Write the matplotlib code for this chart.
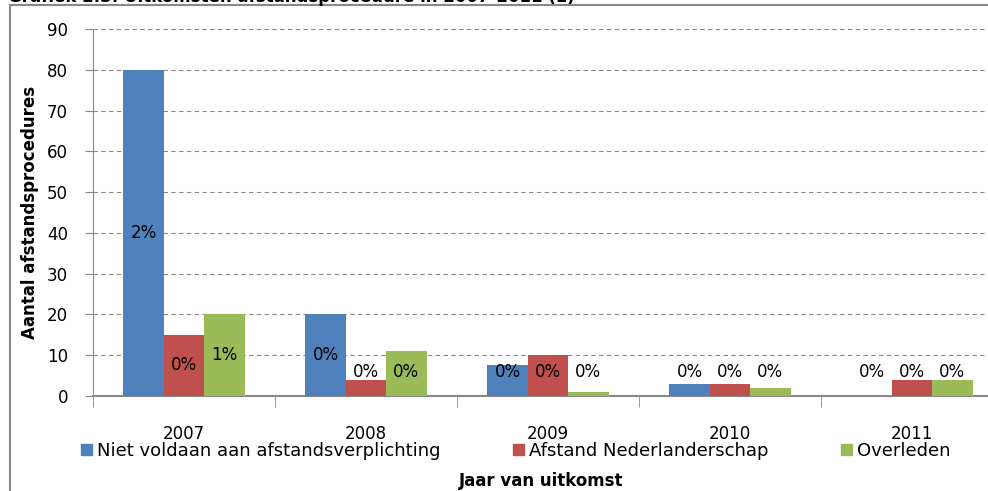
import matplotlib.pyplot as plt
import matplotlib.patches as mpatches
import numpy as np

# data
years = ['2007', '2008', '2009', '2010', '2011']
niet_voldaan = [80, 20, 7.5, 3, 0]
afstand_nl = [15, 4, 10, 3, 4]
overleden = [20, 11, 1, 2, 4]
pct_niet = ['2%', '0%', '0%', '0%', '0%']
pct_afstand = ['0%', '0%', '0%', '0%', '0%']
pct_overl = ['1%', '0%', '0%', '0%', '0%']

series = [
    ('Niet voldaan aan afstandsverplichting', niet_voldaan, pct_niet, '#4F81BD'),
    ('Afstand Nederlanderschap', afstand_nl, pct_afstand, '#C0504D'),
    ('Overleden', overleden, pct_overl, '#9BBB59'),
]

fig = plt.figure(figsize=(9.88, 4.91), dpi=100)
ax = fig.add_axes([93/988, 1-396/491, 910/988, 367/491])

x = np.arange(len(years))
w = 0.222
for i, (name, vals, pcts, col) in enumerate(series):
    xs = x + (i-1)*w
    ax.bar(xs, vals, width=w, color=col, label=name, zorder=3)
    for xi, v, p in zip(xs, vals, pcts):
        ax.text(xi, max(v/2, 6), p, ha='center', va='center', fontsize=12, zorder=4)

ax.set_xlim(-0.5, len(years)-0.5)
ax.set_ylim(0, 90)
ax.set_yticks(np.arange(0, 91, 10))
ax.yaxis.grid(True, linestyle=(0, (4, 3)), color='#888888', linewidth=0.8, zorder=0)
ax.tick_params(axis='y', labelsize=12, color='#888888', length=6, pad=12)

ax.set_xticks(x)
ax.set_xticklabels(years, fontsize=12)
ax.set_xticks(np.arange(-0.5, len(years), 1), minor=True)
ax.tick_params(axis='x', which='major', length=0, pad=21)
ax.tick_params(axis='x', which='minor', length=8, color='#888888')

for s in ['top', 'right']:
    ax.spines[s].set_visible(False)
ax.spines['left'].set_color('#888888')
ax.spines['bottom'].set_color('#888888')
ax.spines['bottom'].set_linewidth(1.5)

ax.set_ylabel('Aantal afstandsprocedures', fontsize=12, fontweight='bold', labelpad=6)
fig.text(541/988, 1-481/491, 'Jaar van uitkomst', ha='center', va='center',
         fontsize=12, fontweight='bold')

handles = [mpatches.Patch(color=c) for _, _, _, c in series]
labels = [n for n, _, _, _ in series]
leg = fig.legend(handles, labels, loc='center left', bbox_to_anchor=(74/988, 1-451/491),
                 ncol=3, frameon=False, fontsize=13, handlelength=0.6, handleheight=0.6,
                 handletextpad=0.3, columnspacing=4.0, borderaxespad=0)

# outer chart border (cut off at right and bottom)
fig.patches.append(mpatches.Rectangle((10/988, -0.2), 1.2, 1.2 - 5/491,
                                      transform=fig.transFigure, fill=False,
                                      edgecolor='#888888', linewidth=1.5))
# chart title, cut off at the top edge as in the source image
fig.text(8/988, 1-2/491, 'Grafiek 2.3: Uitkomsten afstandsprocedure in 2007-2011 (1)',
         ha='left', va='baseline', fontsize=12, fontweight='bold')

fig.savefig('out.png', dpi=100)
